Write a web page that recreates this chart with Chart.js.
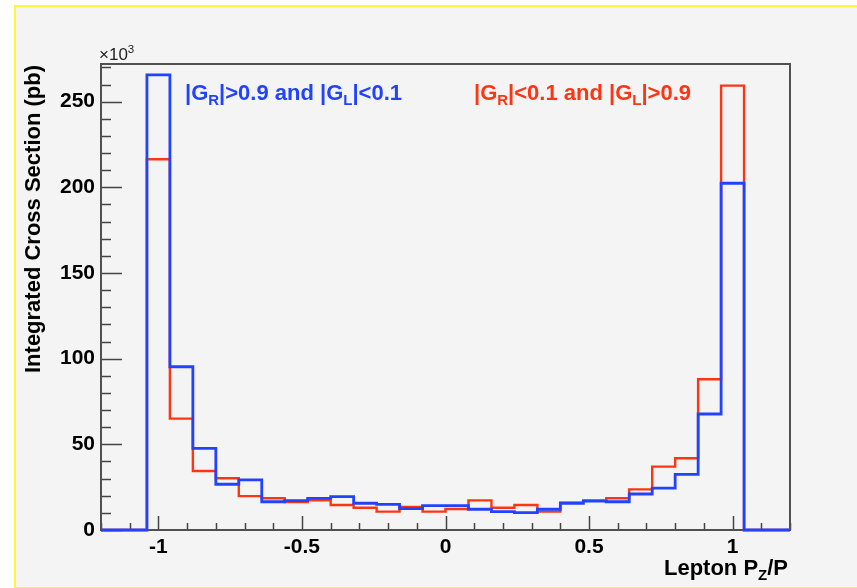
<!DOCTYPE html>
<html>
<head>
<meta charset="utf-8">
<script src="https://cdn.jsdelivr.net/npm/chart.js@4.4.1/dist/chart.umd.min.js"></script>
<style>
	body { margin: 0; background: #ffffff; font-family: "Liberation Sans", Arial, sans-serif; }
	#wrap { position: relative; width: 857px; height: 588px; overflow: hidden; }
	#panel { position: absolute; left: 14px; top: 5px; width: 900px; height: 580px; border: 2px solid #fff53c; background: #f4f4f4; }
	canvas { position: absolute; left: 0; top: 0; }
	.txt { position: absolute; white-space: nowrap; font-weight: bold; line-height: 1; }
	.txt sub { font-size: 68%; vertical-align: -0.35em; line-height: 0; }
	.txt sup { font-size: 68%; vertical-align: 0.6em; line-height: 0; }
	.blue { color: #2142ff; }
	.red { color: #ff3412; }
</style>
</head>
<body>
<div id="wrap">
	<div id="panel"></div>
	<canvas id="myChart" width="857" height="588"></canvas>
	<div class="txt" style="left:33px; top:219px; font-size:22px; transform: translate(-50%,-50%) rotate(-90deg);">Integrated Cross Section (pb)</div>
	<div class="txt" style="right:69px; top:557px; font-size:22px;">Lepton P<sub>Z</sub>/P</div>
	<div class="txt" style="left:99px; top:46px; font-size:17px; font-weight:normal; color:#222;">×10<sup>3</sup></div>
	<div class="txt blue" style="left:185px; top:82px; font-size:22px;">|G<sub>R</sub>|&gt;0.9 and |G<sub>L</sub>|&lt;0.1</div>
	<div class="txt red" style="left:474px; top:82px; font-size:22px;">|G<sub>R</sub>|&lt;0.1 and |G<sub>L</sub>|&gt;0.9</div>
</div>
<script>
// bin edges of Lepton Pz/P (30 bins)
const binEdges = [-1.2, -1.12, -1.04, -0.96, -0.88, -0.8, -0.72, -0.64, -0.56, -0.48, -0.4, -0.32, -0.24, -0.16, -0.08, 0,
	0.08, 0.16, 0.24, 0.32, 0.4, 0.48, 0.56, 0.64, 0.72, 0.8, 0.88, 0.96, 1.04, 1.12, 1.2];
// cross section per bin, x10^3 pb
const blueValues = [0, 0, 265.6, 95.3, 47.7, 26.7, 29.2, 16.5, 17.1, 18.5, 19.5, 15.6, 15.0, 12.5, 14.2,
	14.2, 12.1, 10.7, 10.1, 12.1, 15.6, 16.9, 16.5, 21.0, 24.5, 32.5, 67.7, 202.4, 0, 0];
const redValues = [0, 0, 216.4, 65.0, 34.4, 30.2, 19.8, 18.5, 16.3, 17.3, 14.6, 13.0, 10.7, 13.5, 10.7,
	12.3, 17.3, 13.0, 14.6, 10.7, 15.9, 17.3, 18.5, 23.7, 37.0, 41.9, 88.0, 259.4, 0, 0];
const xTicks = [-1, -0.5, 0, 0.5, 1];
const yTicks = [0, 50, 100, 150, 200, 250];

// value i covers [edge i, edge i+1]
const toSteps = (values) => {
	let pts = [];
	for (let i = 0; i < values.length; i++) {
		pts.push({ x: binEdges[i], y: values[i] });
	}
	pts.push({ x: binEdges[binEdges.length - 1], y: values[values.length - 1] });
	return pts;
};

// ROOT style frame and inward ticks, under the histograms
const rootAxes = {
	id: "rootAxes",
	beforeDatasetsDraw(chart) {
		const ctx = chart.ctx;
		const area = chart.chartArea;
		const xs = chart.scales.x;
		const ys = chart.scales.y;
		ctx.save();
		ctx.strokeStyle = "#444";
		ctx.lineWidth = 1.5;
		ctx.beginPath();
		for (let v = 0; v <= 270.01; v += 10) {
			const y = Math.round(ys.getPixelForValue(v)) + 0.5;
			const len = v % 50 === 0 ? 21 : 10;
			ctx.moveTo(area.left, y);
			ctx.lineTo(area.left + len, y);
		}
		for (let i = -12; i <= 12; i++) {
			const x = Math.round(xs.getPixelForValue(i / 10)) + 0.5;
			const len = i % 5 === 0 ? 14 : 7;
			ctx.moveTo(x, area.bottom);
			ctx.lineTo(x, area.bottom - len);
		}
		ctx.stroke();
		ctx.lineWidth = 2;
		ctx.strokeStyle = "#505050";
		ctx.strokeRect(area.left, area.top, area.right - area.left, area.bottom - area.top);
		ctx.restore();
	},
};

const data = {
	datasets: [
		{
			label: "blue",
			data: toSteps(blueValues),
			borderColor: "#2142ff",
			borderWidth: 2.8,
			stepped: "before",
			pointRadius: 0,
			fill: false,
			clip: 3,
		},
		{
			label: "red",
			data: toSteps(redValues),
			borderColor: "#ff3412",
			borderWidth: 2.4,
			stepped: "before",
			pointRadius: 0,
			fill: false,
			clip: 3,
		},
	],
};

const tickFont = { family: "'Liberation Sans', Arial", size: 21, weight: "bold" };

const config = {
	type: "line",
	data,
	plugins: [rootAxes],
	options: {
		responsive: false,
		animation: false,
		layout: { padding: { left: 0, top: 64, right: 67, bottom: 0 } },
		plugins: { legend: { display: false }, tooltip: { enabled: false } },
		scales: {
			x: {
				type: "linear",
				min: -1.2,
				max: 1.2,
				afterBuildTicks: (scale) => {
					scale.ticks = xTicks.map((v) => ({ value: v }));
				},
				afterFit: (scale) => {
					scale.height = 58;
				},
				grid: { display: false, drawTicks: false },
				border: { display: false },
				ticks: {
					padding: 5,
					color: "#000",
					font: tickFont,
					callback: (v) => String(v),
				},
			},
			y: {
				type: "linear",
				min: 0,
				max: 272,
				afterBuildTicks: (scale) => {
					scale.ticks = yTicks.map((v) => ({ value: v }));
				},
				afterFit: (scale) => {
					scale.width = 101;
				},
				grid: { display: false, drawTicks: false },
				border: { display: false },
				ticks: {
					padding: 6,
					color: "#000",
					font: tickFont,
				},
			},
		},
	},
};

const myChart = new Chart(document.getElementById("myChart"), config);
</script>
</body>
</html>
